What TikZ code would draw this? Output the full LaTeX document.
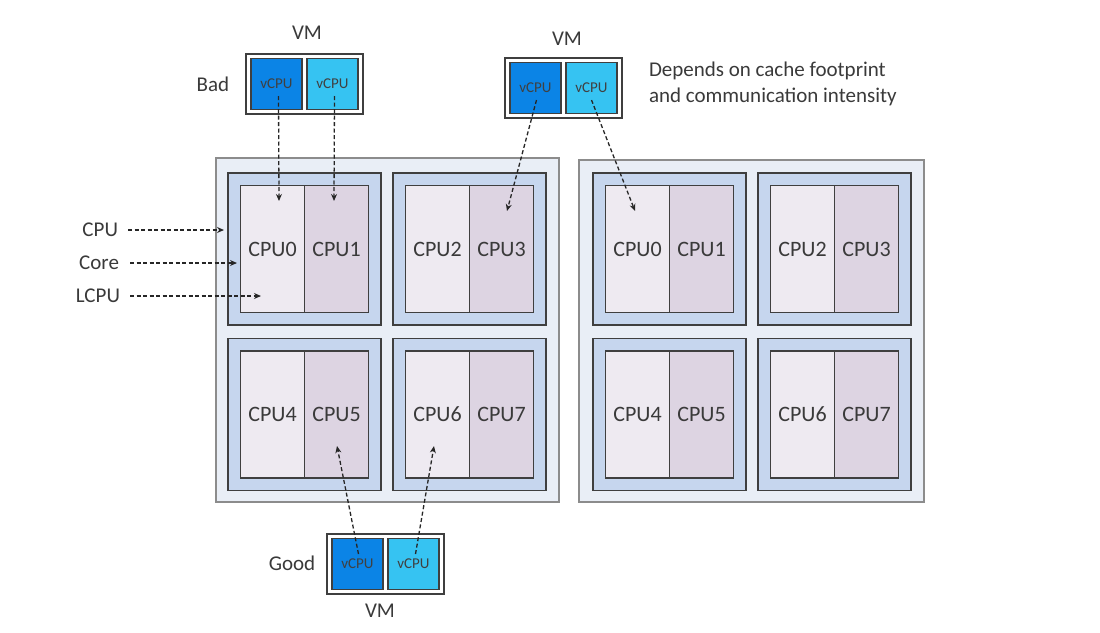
\documentclass[tikz,border=0pt]{standalone}
\usepackage{fontspec}
\setmainfont{Carlito}
\usetikzlibrary{arrows.meta,calc}
\definecolor{socketfill}{HTML}{E9EEF6}
\definecolor{socketline}{HTML}{8C8C8C}
\definecolor{corefill}{HTML}{C6D6EE}
\definecolor{coreline}{HTML}{3F3F3F}
\definecolor{lcpuAfill}{HTML}{EEEAF1}
\definecolor{lcpuBfill}{HTML}{DDD4E2}
\definecolor{vdark}{HTML}{0B84E6}
\definecolor{vlight}{HTML}{36C3F2}
\definecolor{txt}{HTML}{3A3A3A}
\begin{document}
\begin{tikzpicture}[x=1pt,y=-1pt,
  every node/.style={inner sep=0pt, outer sep=0pt, text=txt},
  socketbox/.style={draw=socketline, fill=socketfill, line width=1.2pt},
  corebox/.style={draw=coreline, fill=corefill, line width=1.5pt, minimum width=153pt, minimum height=152pt},
  lcpubox/.style={draw=coreline, line width=1.3pt, minimum width=64pt, minimum height=127pt, font=\fontsize{22}{25}\selectfont},
  vmbox/.style={draw=coreline, fill=white, line width=1.5pt, minimum width=117pt, minimum height=60pt},
  vcpubox/.style={draw=coreline, line width=1.2pt, minimum width=51pt, minimum height=51pt, font=\fontsize{15}{17}\selectfont, text=black!75},
  lbl/.style={font=\fontsize{21}{24}\selectfont},
  dasharrow/.style={draw=black!85, line width=1.3pt, dash pattern=on 4pt off 2.5pt, -{Stealth[length=7pt,width=6pt]}}
]
\useasboundingbox (0,0) rectangle (1100,632);
\fill[white] (0,0) rectangle (1100,632);

% sockets
\node[socketbox, minimum width=343pt, minimum height=344pt] (s1) at (387.5,330) {};
\node[socketbox, minimum width=345pt, minimum height=342pt] (s2) at (751.5,331) {};

% cores
\foreach \n/\x/\y in {a/304.5/249, b/469.5/249, c/304.5/414.5, d/469.5/414.5, e/669.5/249, f/834.5/249, g/669.5/414.5, h/834.5/414.5}
  \node[corebox] (core\n) at (\x,\y) {};

% logical CPUs
\foreach \n/\l/\r in {a/0/1, b/2/3, c/4/5, d/6/7, e/0/1, f/2/3, g/4/5, h/6/7} {
  \node[lcpubox, fill=lcpuAfill] (lc\n0) at ($(core\n)+(-32,0)$) {CPU\l};
  \node[lcpubox, fill=lcpuBfill] (lc\n1) at ($(core\n)+(32,0)$) {CPU\r};
}

% VMs
\node[vmbox] (vmbad) at (304.5,84) {};
\node[vcpubox, fill=vdark] (vb1) at ($(vmbad)+(-28,0)$) {vCPU};
\node[vcpubox, fill=vlight] (vb2) at ($(vmbad)+(28,0)$) {vCPU};
\node[lbl] (vmbadl) at (307,33) {VM};
\node[lbl] (bad) at (213,84) {Bad};

\node[vmbox] (vmmid) at (563.5,88) {};
\node[vcpubox, fill=vdark] (vm1) at ($(vmmid)+(-28,0)$) {vCPU};
\node[vcpubox, fill=vlight] (vm2) at ($(vmmid)+(28,0)$) {vCPU};
\node[lbl] (vmmidl) at (567,39) {VM};
\node[lbl, anchor=west, align=left, font=\fontsize{21}{26}\selectfont] (desc) at (649,84) {Depends on cache footprint\\and communication intensity};

\node[vmbox] (vmgood) at (385.5,564) {};
\node[vcpubox, fill=vdark] (vg1) at ($(vmgood)+(-28,0)$) {vCPU};
\node[vcpubox, fill=vlight] (vg2) at ($(vmgood)+(28,0)$) {vCPU};
\node[lbl] (vmgoodl) at (380,611) {VM};
\node[lbl] (good) at (292,563) {Good};

% left labels
\node[lbl, anchor=east] (lcpu) at (118,230) {CPU};
\node[lbl, anchor=east] (lcore) at (119,263) {Core};
\node[lbl, anchor=east] (llcpu) at (120,296) {LCPU};
\coordinate (tcpu) at (224,230);
\coordinate (tcore) at (237,263);
\coordinate (tlcpu) at (261,296);
\draw[dasharrow] ($(lcpu.east)+(10,0)$) -- (tcpu);
\draw[dasharrow] ($(lcore.east)+(11,0)$) -- (tcore);
\draw[dasharrow] ($(llcpu.east)+(10,0)$) -- (tlcpu);

% VM arrows
\coordinate (tb1) at (279,201);
\coordinate (tb2) at (334,201);
\coordinate (tm1) at (507,211);
\coordinate (tm2) at (635,211);
\coordinate (tg1) at (337,446);
\coordinate (tg2) at (434,446);
\draw[dasharrow] ($(vb1.center)+(2,12)$) -- (tb1);
\draw[dasharrow] ($(vb2.center)+(2,12)$) -- (tb2);
\draw[dasharrow] ($(vm1.center)+(1,12)$) -- (tm1);
\draw[dasharrow] ($(vm2.center)+(0,12)$) -- (tm2);
\draw[dasharrow] ($(vg1.center)+(1,-10)$) -- (tg1);
\draw[dasharrow] ($(vg2.center)+(2,-10)$) -- (tg2);
\end{tikzpicture}
\end{document}
